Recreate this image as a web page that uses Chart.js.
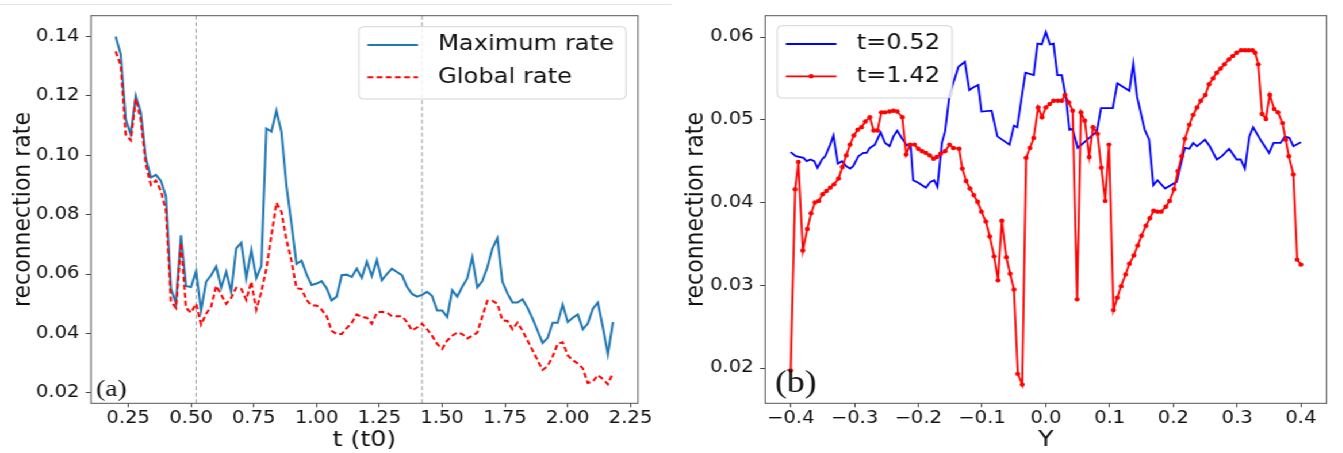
<!DOCTYPE html>
<html>
<head>
<meta charset="utf-8">
<script src="https://cdn.jsdelivr.net/npm/chart.js@4.4.0/dist/chart.umd.min.js"></script>
<style>
  html, body { margin: 0; padding: 0; background: #fff; overflow: hidden; }
  /* the figure is drawn a little narrow and widened on screen */
  #stage { position: absolute; left: 0; top: 0; width: 1168px; height: 453px;
           transform: scaleX(1.15); transform-origin: 0 0; }
  #stage canvas { position: absolute; top: 0; }
  .rule { position: absolute; left: 0; top: 4px; width: 584px; border-top: 1px solid #e4e4e4; }
</style>
</head>
<body>
<div id="stage">
  <div class="rule"></div>
  <canvas id="rateTime" width="584" height="453" style="left:0"></canvas>
  <canvas id="rateY" width="584" height="453" style="left:584px"></canvas>
</div>
<script>
// ---- (a) reconnection rate against time ----
const tValues = [
  0.20, 0.22, 0.24, 0.26, 0.28, 0.30, 0.32, 0.34, 0.36, 0.38,
  0.40, 0.42, 0.44, 0.46, 0.48, 0.50, 0.52, 0.54, 0.56, 0.58,
  0.60, 0.62, 0.64, 0.66, 0.68, 0.70, 0.72, 0.74, 0.76, 0.78,
  0.80, 0.82, 0.84, 0.86, 0.88, 0.90, 0.92, 0.94, 0.96, 0.98,
  1.00, 1.02, 1.04, 1.06, 1.08, 1.10, 1.12, 1.14, 1.16, 1.18,
  1.20, 1.22, 1.24, 1.26, 1.28, 1.30, 1.32, 1.34, 1.36, 1.38,
  1.40, 1.42, 1.44, 1.46, 1.48, 1.50, 1.52, 1.54, 1.56, 1.58,
  1.60, 1.62, 1.64, 1.66, 1.68, 1.70, 1.72, 1.74, 1.76, 1.78,
  1.80, 1.82, 1.84, 1.86, 1.88, 1.90, 1.92, 1.94, 1.96, 1.98,
  2.00, 2.02, 2.04, 2.06, 2.08, 2.10, 2.12, 2.14, 2.16, 2.18
];
const maxRate = [
  0.140, 0.134, 0.112, 0.107, 0.120, 0.1145, 0.099, 0.0925, 0.0934, 0.0914,
  0.0862, 0.055, 0.0502, 0.073, 0.056, 0.0556, 0.0609, 0.0477, 0.0574, 0.0596,
  0.0625, 0.0554, 0.0607, 0.054, 0.0686, 0.0705, 0.0585, 0.0681, 0.0587, 0.0628,
  0.109, 0.108, 0.115, 0.1079, 0.0898, 0.077, 0.0634, 0.0645, 0.060, 0.0563,
  0.0568, 0.0576, 0.0552, 0.0511, 0.0524, 0.0596, 0.0598, 0.059, 0.0618, 0.0587,
  0.0642, 0.0593, 0.0647, 0.0579, 0.060, 0.0618, 0.0607, 0.0596, 0.0557, 0.0533,
  0.0524, 0.053, 0.054, 0.0526, 0.0477, 0.0477, 0.0455, 0.0546, 0.0524, 0.0557,
  0.0585, 0.0656, 0.0555, 0.0576, 0.0623, 0.0686, 0.0721, 0.0574, 0.0535, 0.0504,
  0.0504, 0.0515, 0.0486, 0.045, 0.0409, 0.0368, 0.0385, 0.0436, 0.0436, 0.0497,
  0.0438, 0.0453, 0.0464, 0.0414, 0.0433, 0.0483, 0.0504, 0.042, 0.033, 0.0438
];
const globalRate = [
  0.135, 0.1304, 0.107, 0.105, 0.119, 0.112, 0.097, 0.090, 0.0915, 0.088,
  0.0815, 0.0508, 0.0486, 0.0705, 0.0486, 0.047, 0.050, 0.043, 0.0466, 0.049,
  0.056, 0.053, 0.050, 0.052, 0.0554, 0.055, 0.0513, 0.0574, 0.048, 0.054,
  0.0618, 0.0728, 0.084, 0.081, 0.0716, 0.0645, 0.0552, 0.055, 0.0513, 0.0494,
  0.0494, 0.048, 0.0458, 0.0409, 0.0398, 0.0398, 0.0418, 0.0436, 0.0464, 0.0455,
  0.0453, 0.0433, 0.047, 0.0473, 0.047, 0.0458, 0.0458, 0.0458, 0.0438, 0.041,
  0.042, 0.0433, 0.0414, 0.0392, 0.0365, 0.0348, 0.0376, 0.0392, 0.0403, 0.0398,
  0.0383, 0.0392, 0.0403, 0.0458, 0.051, 0.051, 0.050, 0.0444, 0.0442, 0.0414,
  0.0436, 0.0409, 0.0376, 0.0343, 0.031, 0.0277, 0.029, 0.0323, 0.0365, 0.037,
  0.0326, 0.031, 0.0299, 0.0282, 0.0233, 0.0238, 0.026, 0.0246, 0.0229, 0.0268
];
const snapshotTimes = [0.52, 1.42];
const tTicks = [0.25, 0.50, 0.75, 1.00, 1.25, 1.50, 1.75, 2.00, 2.25];
const rateTicksA = [0.02, 0.04, 0.06, 0.08, 0.10, 0.12, 0.14];

// ---- (b) rate across Y at the two snapshot times ----
const yEarly = [
  -0.400, -0.392, -0.380, -0.375, -0.369, -0.363, -0.358, -0.351, -0.346, -0.338,
  -0.333, -0.326, -0.320, -0.313, -0.307, -0.302, -0.294, -0.286, -0.281, -0.276,
  -0.268, -0.259, -0.252, -0.245, -0.239, -0.233, -0.226, -0.218, -0.212, -0.208,
  -0.200, -0.188, -0.181, -0.175, -0.170, -0.163, -0.158, -0.151, -0.137, -0.127,
  -0.120, -0.114, -0.106, -0.101, -0.085, -0.076, -0.057, -0.050, -0.045, -0.032,
  -0.019, -0.013, -0.0065, 0.000, 0.0065, 0.012, 0.018, 0.025, 0.032, 0.037,
  0.042, 0.050, 0.080, 0.0865, 0.105, 0.112, 0.131, 0.137, 0.143, 0.155,
  0.162, 0.1685, 0.175, 0.187, 0.205, 0.218, 0.225, 0.231, 0.237, 0.2495,
  0.257, 0.268, 0.276, 0.2875, 0.299, 0.3055, 0.312, 0.319, 0.325, 0.338,
  0.350, 0.357, 0.368, 0.375, 0.382, 0.388, 0.400
];
const rateEarly = [
  0.0461, 0.0456, 0.0454, 0.0450, 0.0452, 0.0450, 0.0442, 0.0452, 0.0456, 0.0470,
  0.0481, 0.0447, 0.0450, 0.0444, 0.0441, 0.0444, 0.0456, 0.0460, 0.0460, 0.0466,
  0.0470, 0.0485, 0.0472, 0.0468, 0.0480, 0.0487, 0.0478, 0.0469, 0.0469, 0.0427,
  0.0424, 0.0418, 0.0425, 0.0427, 0.0419, 0.0472, 0.0486, 0.0530, 0.0564, 0.0570,
  0.0536, 0.0539, 0.0542, 0.0510, 0.0511, 0.0480, 0.0470, 0.0493, 0.0491, 0.0557,
  0.0554, 0.0592, 0.0591, 0.0606, 0.0591, 0.0592, 0.0554, 0.0554, 0.0524, 0.0488,
  0.0489, 0.0466, 0.0486, 0.0514, 0.0514, 0.0544, 0.0535, 0.0568, 0.0528, 0.0488,
  0.0476, 0.0421, 0.0427, 0.0417, 0.0425, 0.0466, 0.0465, 0.0472, 0.0468, 0.0476,
  0.0468, 0.0452, 0.0456, 0.0465, 0.0452, 0.0452, 0.0441, 0.0480, 0.0491, 0.0474,
  0.0460, 0.0472, 0.0472, 0.0480, 0.0478, 0.0468, 0.0473
];
const yLate = [
  -0.400, -0.393, -0.388, -0.381, -0.374, -0.368, -0.362, -0.356, -0.350, -0.344,
  -0.338, -0.332, -0.325, -0.319, -0.313, -0.307, -0.301, -0.295, -0.289, -0.283,
  -0.276, -0.270, -0.264, -0.258, -0.252, -0.245, -0.239, -0.233, -0.225, -0.219,
  -0.213, -0.206, -0.200, -0.194, -0.188, -0.182, -0.176, -0.171, -0.165, -0.158,
  -0.151, -0.145, -0.136, -0.131, -0.125, -0.119, -0.113, -0.107, -0.101, -0.094,
  -0.088, -0.081, -0.075, -0.069, -0.062, -0.056, -0.050, -0.044, -0.037, -0.031,
  -0.025, -0.019, -0.012, -0.006, 0.000, 0.006, 0.012, 0.019, 0.025, 0.030,
  0.036, 0.042, 0.049, 0.055, 0.061, 0.068, 0.074, 0.081, 0.087, 0.093,
  0.099, 0.106, 0.112, 0.118, 0.125, 0.131, 0.138, 0.144, 0.150, 0.157,
  0.163, 0.169, 0.175, 0.181, 0.188, 0.194, 0.201, 0.207, 0.213, 0.218,
  0.225, 0.231, 0.237, 0.243, 0.250, 0.256, 0.262, 0.268, 0.274, 0.280,
  0.287, 0.293, 0.299, 0.306, 0.312, 0.318, 0.324, 0.328, 0.333, 0.339,
  0.345, 0.351, 0.358, 0.364, 0.371, 0.376, 0.381, 0.388, 0.394, 0.400
];
const rateLate = [
  0.0197, 0.0416, 0.0449, 0.0342, 0.0368, 0.0387, 0.0400, 0.0402, 0.0410, 0.0414,
  0.0418, 0.0422, 0.0429, 0.0443, 0.0457, 0.0470, 0.0481, 0.0488, 0.0491, 0.0498,
  0.0503, 0.0487, 0.0487, 0.0509, 0.0509, 0.0510, 0.0511, 0.0510, 0.0503, 0.0458,
  0.0470, 0.0470, 0.0465, 0.0462, 0.0460, 0.0457, 0.0453, 0.0455, 0.0459, 0.0462,
  0.0470, 0.0466, 0.0465, 0.0441, 0.0426, 0.0417, 0.0409, 0.0401, 0.0389, 0.0377,
  0.0359, 0.0335, 0.0306, 0.0378, 0.0334, 0.0314, 0.0295, 0.0193, 0.0180, 0.0454,
  0.0466, 0.0478, 0.0515, 0.0503, 0.0515, 0.0519, 0.0523, 0.0523, 0.0523, 0.0530,
  0.0521, 0.0511, 0.0283, 0.0509, 0.0499, 0.0455, 0.0491, 0.0483, 0.0442, 0.0402,
  0.0470, 0.0270, 0.0285, 0.0299, 0.0313, 0.0326, 0.0336, 0.0348, 0.0360, 0.0372,
  0.0381, 0.0390, 0.0389, 0.0389, 0.0395, 0.0402, 0.0416, 0.0438, 0.0456, 0.0477,
  0.0494, 0.0506, 0.0515, 0.0523, 0.0530, 0.0543, 0.0550, 0.0557, 0.0562, 0.0567,
  0.0573, 0.0577, 0.0581, 0.0584, 0.0584, 0.0584, 0.0584, 0.0581, 0.0567, 0.0507,
  0.0501, 0.0530, 0.0513, 0.0509, 0.0496, 0.0476, 0.0456, 0.0434, 0.0331, 0.0325
];
const yTicks = [-0.4, -0.3, -0.2, -0.1, 0.0, 0.1, 0.2, 0.3, 0.4];
const rateTicksB = [0.02, 0.03, 0.04, 0.05, 0.06];

Chart.defaults.font.family = "'DejaVu Sans', sans-serif";
Chart.defaults.color = '#111';

const pairs = (xs, ys) => xs.map((x, i) => ({ x, y: ys[i] }));

// legend box sitting inside the plot area
const insetLegend = {
  id: 'insetLegend',
  afterDatasetsDraw(chart, args, o) {
    const { ctx, chartArea: a } = chart;
    const sets = chart.data.datasets;
    ctx.save();
    ctx.font = o.fontSize + "px 'DejaVu Sans'";
    const textW = Math.max(...sets.map(d => ctx.measureText(d.label).width));
    const w = o.padX + o.handle + o.gap + textW + o.padRight;
    const x = o.align === 'right' ? a.right - o.inset - w : a.left + o.inset;
    const y = a.top + o.insetTop;
    ctx.beginPath();
    ctx.roundRect(x, y, w, o.height, 4);
    ctx.fillStyle = 'rgba(255,255,255,0.8)';
    ctx.fill();
    ctx.strokeStyle = '#d4d4d4';
    ctx.lineWidth = 1;
    ctx.stroke();
    sets.forEach((d, i) => {
      const cy = y + o.firstRow + i * o.rowGap;
      const x0 = x + o.padX, x1 = x0 + o.handle;
      ctx.strokeStyle = d.borderColor;
      ctx.lineWidth = d.borderWidth;
      ctx.setLineDash(d.borderDash || []);
      ctx.beginPath();
      ctx.moveTo(x0, cy);
      ctx.lineTo(x1, cy);
      ctx.stroke();
      ctx.setLineDash([]);
      if (d.pointRadius) {
        ctx.fillStyle = d.borderColor;
        ctx.beginPath();
        ctx.arc((x0 + x1) / 2, cy, d.pointRadius, 0, Math.PI * 2);
        ctx.fill();
      }
      ctx.fillStyle = '#111';
      ctx.textBaseline = 'middle';
      ctx.fillText(d.label, x1 + o.gap, cy);
    });
    ctx.restore();
  }
};

// box round the axes, dashed time markers and the panel tag
const frame = {
  id: 'frame',
  beforeDatasetsDraw(chart, args, o) {
    const { ctx, chartArea: a, scales } = chart;
    (o.marks || []).forEach(v => {
      const px = scales.x.getPixelForValue(v);
      ctx.save();
      ctx.strokeStyle = '#9a9a9a';
      ctx.lineWidth = 1;
      ctx.setLineDash([4, 2.5]);
      ctx.beginPath();
      ctx.moveTo(px, a.top);
      ctx.lineTo(px, a.bottom);
      ctx.stroke();
      ctx.restore();
    });
  },
  afterDraw(chart, args, o) {
    const { ctx, chartArea: a } = chart;
    ctx.save();
    ctx.strokeStyle = '#555';
    ctx.lineWidth = 1;
    ctx.strokeRect(a.left, a.top, a.right - a.left, a.bottom - a.top);
    ctx.font = o.tagSize + "px 'Liberation Serif', 'Times New Roman', serif";
    ctx.fillStyle = '#111';
    ctx.textBaseline = 'alphabetic';
    ctx.fillText(o.tag, a.left + o.tagX, o.tagY);
    ctx.restore();
  }
};

function xScale(min, max, ticks, fmt, title) {
  return {
    type: 'linear', min, max,
    afterBuildTicks: s => { s.ticks = ticks.map(v => ({ value: v })); },
    afterFit: s => { s.height = 49.7; },
    grid: { drawOnChartArea: false, tickLength: 4, tickColor: '#444' },
    border: { display: false },
    ticks: { font: { size: 17 }, color: '#111', padding: 1.5, maxRotation: 0, autoSkip: false, callback: fmt },
    title: { display: true, text: title, font: { size: 22 }, color: '#111', padding: 0 }
  };
}

function yScale(min, max, ticks, width) {
  return {
    type: 'linear', min, max,
    afterBuildTicks: s => { s.ticks = ticks.map(v => ({ value: v })); },
    afterFit: s => { s.width = width; },
    grid: { drawOnChartArea: false, tickLength: 4.5, tickColor: '#444' },
    border: { display: false },
    ticks: { font: { size: 17 }, color: '#111', padding: 5.5, autoSkip: false, callback: v => v.toFixed(2) },
    title: { display: true, text: 'reconnection rate', font: { size: 22 }, color: '#111', padding: 0 }
  };
}

const common = {
  responsive: false,
  animation: false,
  events: [],
  elements: { line: { tension: 0 } }
};

new Chart(document.getElementById('rateTime'), {
  type: 'line',
  data: {
    datasets: [{
      label: 'Maximum rate',
      data: pairs(tValues, maxRate),
      borderColor: '#1f77b4',
      borderWidth: 2,
      pointRadius: 0,
      order: 1
    }, {
      label: 'Global rate',
      data: pairs(tValues, globalRate),
      borderColor: '#ff0000',
      borderWidth: 2,
      borderDash: [5, 3],
      pointRadius: 0,
      order: 0
    }]
  },
  options: {
    ...common,
    layout: { padding: { left: 7, right: 29.2, top: 11.7, bottom: 0 } },
    scales: {
      x: xScale(0.1016, 2.2798, tTicks, v => v.toFixed(2), 't (t0)'),
      y: yScale(0.01647, 0.147, rateTicksA, 72.1)
    },
    plugins: {
      legend: { display: false },
      tooltip: { enabled: false },
      frame: { marks: snapshotTimes, tag: '(a)', tagSize: 24, tagX: 4.4, tagY: 395.5 },
      insetLegend: { align: 'right', inset: 10.5, insetTop: 11, height: 72.3, fontSize: 21,
                     padX: 7.5, handle: 44, gap: 17.5, padRight: 10.5, firstRow: 18.3, rowGap: 32.3 }
    }
  },
  plugins: [frame, insetLegend]
});

new Chart(document.getElementById('rateY'), {
  type: 'line',
  data: {
    datasets: [{
      label: 't=0.52',
      data: pairs(yEarly, rateEarly),
      borderColor: '#0000ff',
      borderWidth: 1.8,
      pointRadius: 0,
      order: 1
    }, {
      label: 't=1.42',
      data: pairs(yLate, rateLate),
      borderColor: '#ff0000',
      borderWidth: 1.8,
      pointRadius: 2.2,
      pointBackgroundColor: '#ff0000',
      pointBorderWidth: 0,
      order: 0
    }]
  },
  options: {
    ...common,
    layout: { padding: { left: 8.4, right: 14.5, top: 11.7, bottom: 0 } },
    scales: {
      x: xScale(-0.44, 0.44, yTicks, v => v.toFixed(1).replace('-', '\u2212'), 'Y'),
      y: yScale(0.01574, 0.06258, rateTicksB, 73)
    },
    plugins: {
      legend: { display: false },
      tooltip: { enabled: false },
      frame: { tag: '(b)', tagSize: 31, tagX: 8.5, tagY: 391.5 },
      insetLegend: { align: 'left', inset: 10.5, insetTop: 10, height: 72.3, fontSize: 21,
                     padX: 7.5, handle: 44, gap: 17.5, padRight: 10.5, firstRow: 18.3, rowGap: 32.3 }
    }
  },
  plugins: [frame, insetLegend]
});
</script>
</body>
</html>
